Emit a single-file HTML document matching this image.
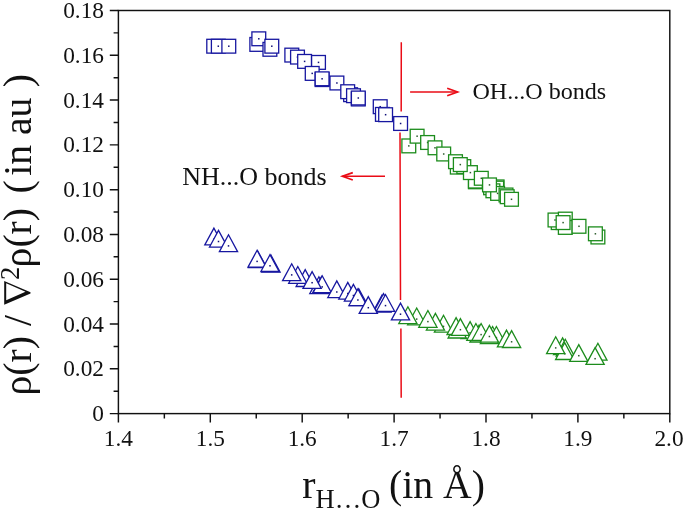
<!DOCTYPE html>
<html><head><meta charset="utf-8"><style>html,body{margin:0;padding:0;background:#fff}svg{display:block;will-change:transform}text{font-family:"Liberation Serif",serif;fill:#111}</style></head><body>
<svg width="685" height="510" viewBox="0 0 685 510">
<rect width="685" height="510" fill="#fff"/>
<rect x="118.4" y="10.5" width="551.4" height="403.1" fill="none" stroke="#111" stroke-width="1.45"/>
<path d="M118.4 413.60h-8.6M118.4 391.21h-4.8M118.4 368.81h-8.6M118.4 346.42h-4.8M118.4 324.02h-8.6M118.4 301.63h-4.8M118.4 279.23h-8.6M118.4 256.84h-4.8M118.4 234.44h-8.6M118.4 212.05h-4.8M118.4 189.66h-8.6M118.4 167.26h-4.8M118.4 144.87h-8.6M118.4 122.47h-4.8M118.4 100.08h-8.6M118.4 77.68h-4.8M118.4 55.29h-8.6M118.4 32.89h-4.8M118.4 10.50h-8.6M118.40 413.6v9.0M164.35 413.6v5.0M210.30 413.6v9.0M256.25 413.6v5.0M302.20 413.6v9.0M348.15 413.6v5.0M394.10 413.6v9.0M440.05 413.6v5.0M486.00 413.6v9.0M531.95 413.6v5.0M577.90 413.6v9.0M623.85 413.6v5.0M669.80 413.6v9.0" stroke="#111" stroke-width="1.45" fill="none"/>
<text x="104.0" y="421.20" font-size="23.3" text-anchor="end">0</text>
<text x="104.0" y="376.41" font-size="23.3" text-anchor="end">0.02</text>
<text x="104.0" y="331.62" font-size="23.3" text-anchor="end">0.04</text>
<text x="104.0" y="286.83" font-size="23.3" text-anchor="end">0.06</text>
<text x="104.0" y="242.04" font-size="23.3" text-anchor="end">0.08</text>
<text x="104.0" y="197.26" font-size="23.3" text-anchor="end">0.10</text>
<text x="104.0" y="152.47" font-size="23.3" text-anchor="end">0.12</text>
<text x="104.0" y="107.68" font-size="23.3" text-anchor="end">0.14</text>
<text x="104.0" y="62.89" font-size="23.3" text-anchor="end">0.16</text>
<text x="104.0" y="18.10" font-size="23.3" text-anchor="end">0.18</text>
<text x="118.40" y="445.8" font-size="23.3" text-anchor="middle">1.4</text>
<text x="210.30" y="445.8" font-size="23.3" text-anchor="middle">1.5</text>
<text x="302.20" y="445.8" font-size="23.3" text-anchor="middle">1.6</text>
<text x="394.10" y="445.8" font-size="23.3" text-anchor="middle">1.7</text>
<text x="486.00" y="445.8" font-size="23.3" text-anchor="middle">1.8</text>
<text x="577.90" y="445.8" font-size="23.3" text-anchor="middle">1.9</text>
<text x="669.00" y="445.8" font-size="23.3" text-anchor="middle">2.0</text>
<g transform="translate(30.5,395.5) rotate(-90)"><text font-size="39.7" xml:space="preserve"><tspan x="0">ρ(r) /</tspan><tspan font-size="26.5" x="115.6" y="-11.8">2</tspan><tspan x="128.1" y="0">ρ(r)</tspan><tspan x="201.9">(</tspan><tspan x="219.7">in au</tspan><tspan x="308.3">)</tspan></text><path transform="translate(90.8,0)" fill-rule="evenodd" fill="#111" d="M0,-26.3H23.7L12.4,0H11.3ZM4.5,-24.3H21.5L13,-5Z"/></g>
<text x="302.3" y="498" font-size="39.7" xml:space="preserve">r<tspan font-size="26.5" dy="10.3">H…O</tspan><tspan dy="-10.3" dx="-1.2"> (in Å)</tspan></text>
<path d="M401.3 42.2L401.2 111.4M400 132.6L400.5 300M400.9 328.4L401.2 397.7" stroke="#ea0c16" stroke-width="1.5" fill="none"/>
<path d="M410.1 92H457.5" stroke="#ea0c16" stroke-width="1.6" fill="none"/><path d="M447.2 88.2L457.6 92L447.2 95.8" stroke="#ea0c16" stroke-width="1.7" fill="none" stroke-linejoin="miter"/>
<path d="M385 176.3H342.5" stroke="#ea0c16" stroke-width="1.6" fill="none"/><path d="M352.8 172.6L342.4 176.3L352.8 180" stroke="#ea0c16" stroke-width="1.7" fill="none" stroke-linejoin="miter"/>
<text x="472.4" y="98.7" font-size="24.1">OH...O bonds</text>
<text x="182.2" y="184.8" font-size="26">NH...O bonds</text>
<rect x="206.8" y="39.3" width="13.8" height="13.8" fill="#fff" stroke="#1717a0" stroke-width="1.3"/><rect x="212.95" y="45.45" width="1.5" height="1.5" fill="#0e0e78"/>
<rect x="211.4" y="39.3" width="13.8" height="13.8" fill="#fff" stroke="#1717a0" stroke-width="1.3"/><rect x="217.55" y="45.45" width="1.5" height="1.5" fill="#0e0e78"/>
<rect x="221.9" y="39.3" width="13.8" height="13.8" fill="#fff" stroke="#1717a0" stroke-width="1.3"/><rect x="228.05" y="45.45" width="1.5" height="1.5" fill="#0e0e78"/>
<rect x="249.9" y="37.5" width="13.8" height="13.8" fill="#fff" stroke="#1717a0" stroke-width="1.3"/><rect x="256.05" y="43.65" width="1.5" height="1.5" fill="#0e0e78"/>
<rect x="251.9" y="31.9" width="13.8" height="13.8" fill="#fff" stroke="#1717a0" stroke-width="1.3"/><rect x="258.05" y="38.05" width="1.5" height="1.5" fill="#0e0e78"/>
<rect x="263.0" y="42.4" width="13.8" height="13.8" fill="#fff" stroke="#1717a0" stroke-width="1.3"/><rect x="269.15" y="48.55" width="1.5" height="1.5" fill="#0e0e78"/>
<rect x="264.9" y="39.3" width="13.8" height="13.8" fill="#fff" stroke="#1717a0" stroke-width="1.3"/><rect x="271.05" y="45.45" width="1.5" height="1.5" fill="#0e0e78"/>
<rect x="284.9" y="48.2" width="13.8" height="13.8" fill="#fff" stroke="#1717a0" stroke-width="1.3"/><rect x="291.05" y="54.35" width="1.5" height="1.5" fill="#0e0e78"/>
<rect x="290.6" y="50.2" width="13.8" height="13.8" fill="#fff" stroke="#1717a0" stroke-width="1.3"/><rect x="296.75" y="56.35" width="1.5" height="1.5" fill="#0e0e78"/>
<rect x="297.7" y="54.5" width="13.8" height="13.8" fill="#fff" stroke="#1717a0" stroke-width="1.3"/><rect x="303.85" y="60.65" width="1.5" height="1.5" fill="#0e0e78"/>
<rect x="311.6" y="55.5" width="13.8" height="13.8" fill="#fff" stroke="#1717a0" stroke-width="1.3"/><rect x="317.75" y="61.65" width="1.5" height="1.5" fill="#0e0e78"/>
<rect x="305.3" y="66.5" width="13.8" height="13.8" fill="#fff" stroke="#1717a0" stroke-width="1.3"/><rect x="311.45" y="72.65" width="1.5" height="1.5" fill="#0e0e78"/>
<rect x="315.2" y="72.7" width="13.8" height="13.8" fill="#fff" stroke="#1717a0" stroke-width="1.3"/><rect x="321.35" y="78.85" width="1.5" height="1.5" fill="#0e0e78"/>
<rect x="315.2" y="71.9" width="13.8" height="13.8" fill="#fff" stroke="#1717a0" stroke-width="1.3"/><rect x="321.35" y="78.05" width="1.5" height="1.5" fill="#0e0e78"/>
<rect x="330.0" y="76.1" width="13.8" height="13.8" fill="#fff" stroke="#1717a0" stroke-width="1.3"/><rect x="336.15" y="82.25" width="1.5" height="1.5" fill="#0e0e78"/>
<rect x="343.7" y="87.8" width="13.8" height="13.8" fill="#fff" stroke="#1717a0" stroke-width="1.3"/><rect x="349.85" y="93.95" width="1.5" height="1.5" fill="#0e0e78"/>
<rect x="340.8" y="84.8" width="13.8" height="13.8" fill="#fff" stroke="#1717a0" stroke-width="1.3"/><rect x="346.95" y="90.95" width="1.5" height="1.5" fill="#0e0e78"/>
<rect x="346.6" y="88.8" width="13.8" height="13.8" fill="#fff" stroke="#1717a0" stroke-width="1.3"/><rect x="352.75" y="94.95" width="1.5" height="1.5" fill="#0e0e78"/>
<rect x="351.4" y="92.1" width="13.8" height="13.8" fill="#fff" stroke="#1717a0" stroke-width="1.3"/><rect x="357.55" y="98.25" width="1.5" height="1.5" fill="#0e0e78"/>
<rect x="351.4" y="91.1" width="13.8" height="13.8" fill="#fff" stroke="#1717a0" stroke-width="1.3"/><rect x="357.55" y="97.25" width="1.5" height="1.5" fill="#0e0e78"/>
<rect x="373.3" y="99.8" width="13.8" height="13.8" fill="#fff" stroke="#1717a0" stroke-width="1.3"/><rect x="379.45" y="105.95" width="1.5" height="1.5" fill="#0e0e78"/>
<rect x="375.5" y="107.5" width="13.8" height="13.8" fill="#fff" stroke="#1717a0" stroke-width="1.3"/><rect x="381.65" y="113.65" width="1.5" height="1.5" fill="#0e0e78"/>
<rect x="378.7" y="107.8" width="13.8" height="13.8" fill="#fff" stroke="#1717a0" stroke-width="1.3"/><rect x="384.85" y="113.95" width="1.5" height="1.5" fill="#0e0e78"/>
<rect x="393.7" y="116.6" width="13.8" height="13.8" fill="#fff" stroke="#1717a0" stroke-width="1.3"/><rect x="399.85" y="122.75" width="1.5" height="1.5" fill="#0e0e78"/>
<rect x="401.9" y="139.0" width="13.8" height="13.8" fill="#fff" stroke="#1c8c1c" stroke-width="1.3"/><rect x="408.05" y="145.15" width="1.5" height="1.5" fill="#2c5c2c"/>
<rect x="410.2" y="129.3" width="13.8" height="13.8" fill="#fff" stroke="#1c8c1c" stroke-width="1.3"/><rect x="416.35" y="135.45" width="1.5" height="1.5" fill="#2c5c2c"/>
<rect x="420.7" y="135.6" width="13.8" height="13.8" fill="#fff" stroke="#1c8c1c" stroke-width="1.3"/><rect x="426.85" y="141.75" width="1.5" height="1.5" fill="#2c5c2c"/>
<rect x="428.1" y="140.9" width="13.8" height="13.8" fill="#fff" stroke="#1c8c1c" stroke-width="1.3"/><rect x="434.25" y="147.05" width="1.5" height="1.5" fill="#2c5c2c"/>
<rect x="436.8" y="147.1" width="13.8" height="13.8" fill="#fff" stroke="#1c8c1c" stroke-width="1.3"/><rect x="442.95" y="153.25" width="1.5" height="1.5" fill="#2c5c2c"/>
<rect x="450.4" y="160.2" width="13.8" height="13.8" fill="#fff" stroke="#1c8c1c" stroke-width="1.3"/><rect x="456.55" y="166.35" width="1.5" height="1.5" fill="#2c5c2c"/>
<rect x="448.6" y="154.8" width="13.8" height="13.8" fill="#fff" stroke="#1c8c1c" stroke-width="1.3"/><rect x="454.75" y="160.95" width="1.5" height="1.5" fill="#2c5c2c"/>
<rect x="456.9" y="159.7" width="13.8" height="13.8" fill="#fff" stroke="#1c8c1c" stroke-width="1.3"/><rect x="463.05" y="165.85" width="1.5" height="1.5" fill="#2c5c2c"/>
<rect x="468.5" y="174.9" width="13.8" height="13.8" fill="#fff" stroke="#1c8c1c" stroke-width="1.3"/><rect x="474.65" y="181.05" width="1.5" height="1.5" fill="#2c5c2c"/>
<rect x="468.5" y="174.2" width="13.8" height="13.8" fill="#fff" stroke="#1c8c1c" stroke-width="1.3"/><rect x="474.65" y="180.35" width="1.5" height="1.5" fill="#2c5c2c"/>
<rect x="463.5" y="165.7" width="13.8" height="13.8" fill="#fff" stroke="#1c8c1c" stroke-width="1.3"/><rect x="469.65" y="171.85" width="1.5" height="1.5" fill="#2c5c2c"/>
<rect x="453.4" y="157.7" width="13.8" height="13.8" fill="#fff" stroke="#1c8c1c" stroke-width="1.3"/><rect x="459.55" y="163.85" width="1.5" height="1.5" fill="#2c5c2c"/>
<rect x="474.4" y="171.4" width="13.8" height="13.8" fill="#fff" stroke="#1c8c1c" stroke-width="1.3"/><rect x="480.55" y="177.55" width="1.5" height="1.5" fill="#2c5c2c"/>
<rect x="483.7" y="180.9" width="13.8" height="13.8" fill="#fff" stroke="#1c8c1c" stroke-width="1.3"/><rect x="489.85" y="187.05" width="1.5" height="1.5" fill="#2c5c2c"/>
<rect x="490.2" y="180.0" width="13.8" height="13.8" fill="#fff" stroke="#1c8c1c" stroke-width="1.3"/><rect x="496.35" y="186.15" width="1.5" height="1.5" fill="#2c5c2c"/>
<rect x="489.8" y="181.2" width="13.8" height="13.8" fill="#fff" stroke="#1c8c1c" stroke-width="1.3"/><rect x="495.95" y="187.35" width="1.5" height="1.5" fill="#2c5c2c"/>
<rect x="486.0" y="183.9" width="13.8" height="13.8" fill="#fff" stroke="#1c8c1c" stroke-width="1.3"/><rect x="492.15" y="190.05" width="1.5" height="1.5" fill="#2c5c2c"/>
<rect x="490.7" y="186.5" width="13.8" height="13.8" fill="#fff" stroke="#1c8c1c" stroke-width="1.3"/><rect x="496.85" y="192.65" width="1.5" height="1.5" fill="#2c5c2c"/>
<rect x="482.6" y="178.0" width="13.8" height="13.8" fill="#fff" stroke="#1c8c1c" stroke-width="1.3"/><rect x="488.75" y="184.15" width="1.5" height="1.5" fill="#2c5c2c"/>
<rect x="499.1" y="188.1" width="13.8" height="13.8" fill="#fff" stroke="#1c8c1c" stroke-width="1.3"/><rect x="505.25" y="194.25" width="1.5" height="1.5" fill="#2c5c2c"/>
<rect x="500.3" y="189.8" width="13.8" height="13.8" fill="#fff" stroke="#1c8c1c" stroke-width="1.3"/><rect x="506.45" y="195.95" width="1.5" height="1.5" fill="#2c5c2c"/>
<rect x="504.6" y="192.4" width="13.8" height="13.8" fill="#fff" stroke="#1c8c1c" stroke-width="1.3"/><rect x="510.75" y="198.55" width="1.5" height="1.5" fill="#2c5c2c"/>
<rect x="551.3" y="215.7" width="13.8" height="13.8" fill="#fff" stroke="#1c8c1c" stroke-width="1.3"/><rect x="557.45" y="221.85" width="1.5" height="1.5" fill="#2c5c2c"/>
<rect x="548.1" y="213.1" width="13.8" height="13.8" fill="#fff" stroke="#1c8c1c" stroke-width="1.3"/><rect x="554.25" y="219.25" width="1.5" height="1.5" fill="#2c5c2c"/>
<rect x="558.4" y="212.2" width="13.8" height="13.8" fill="#fff" stroke="#1c8c1c" stroke-width="1.3"/><rect x="564.55" y="218.35" width="1.5" height="1.5" fill="#2c5c2c"/>
<rect x="558.4" y="220.5" width="13.8" height="13.8" fill="#fff" stroke="#1c8c1c" stroke-width="1.3"/><rect x="564.55" y="226.65" width="1.5" height="1.5" fill="#2c5c2c"/>
<rect x="556.2" y="215.7" width="13.8" height="13.8" fill="#fff" stroke="#1c8c1c" stroke-width="1.3"/><rect x="562.35" y="221.85" width="1.5" height="1.5" fill="#2c5c2c"/>
<rect x="572.1" y="219.4" width="13.8" height="13.8" fill="#fff" stroke="#1c8c1c" stroke-width="1.3"/><rect x="578.25" y="225.55" width="1.5" height="1.5" fill="#2c5c2c"/>
<rect x="591.0" y="230.1" width="13.8" height="13.8" fill="#fff" stroke="#1c8c1c" stroke-width="1.3"/><rect x="597.15" y="236.25" width="1.5" height="1.5" fill="#2c5c2c"/>
<rect x="588.5" y="226.9" width="13.8" height="13.8" fill="#fff" stroke="#1c8c1c" stroke-width="1.3"/><rect x="594.65" y="233.05" width="1.5" height="1.5" fill="#2c5c2c"/>
<path d="M407.6 324.8L416.7 308.0L425.8 324.8Z" fill="#fff" stroke="#1c8c1c" stroke-width="1.3" stroke-linejoin="miter"/><rect x="415.95" y="318.35" width="1.5" height="1.5" fill="#2c5c2c"/>
<path d="M398.8 323.6L407.9 306.8L417.0 323.6Z" fill="#fff" stroke="#1c8c1c" stroke-width="1.3" stroke-linejoin="miter"/><rect x="407.15" y="317.15" width="1.5" height="1.5" fill="#2c5c2c"/>
<path d="M434.4 332.1L443.5 315.3L452.6 332.1Z" fill="#fff" stroke="#1c8c1c" stroke-width="1.3" stroke-linejoin="miter"/><rect x="442.75" y="325.65" width="1.5" height="1.5" fill="#2c5c2c"/>
<path d="M426.3 330.2L435.4 313.4L444.5 330.2Z" fill="#fff" stroke="#1c8c1c" stroke-width="1.3" stroke-linejoin="miter"/><rect x="434.65" y="323.75" width="1.5" height="1.5" fill="#2c5c2c"/>
<path d="M418.8 327.3L427.9 310.5L437.0 327.3Z" fill="#fff" stroke="#1c8c1c" stroke-width="1.3" stroke-linejoin="miter"/><rect x="427.15" y="320.85" width="1.5" height="1.5" fill="#2c5c2c"/>
<path d="M461.0 338.5L470.1 321.7L479.2 338.5Z" fill="#fff" stroke="#1c8c1c" stroke-width="1.3" stroke-linejoin="miter"/><rect x="469.35" y="332.05" width="1.5" height="1.5" fill="#2c5c2c"/>
<path d="M448.1 338.0L457.2 321.2L466.3 338.0Z" fill="#fff" stroke="#1c8c1c" stroke-width="1.3" stroke-linejoin="miter"/><rect x="456.45" y="331.55" width="1.5" height="1.5" fill="#2c5c2c"/>
<path d="M447.0 334.5L456.1 317.7L465.2 334.5Z" fill="#fff" stroke="#1c8c1c" stroke-width="1.3" stroke-linejoin="miter"/><rect x="455.35" y="328.05" width="1.5" height="1.5" fill="#2c5c2c"/>
<path d="M451.3 335.4L460.4 318.6L469.5 335.4Z" fill="#fff" stroke="#1c8c1c" stroke-width="1.3" stroke-linejoin="miter"/><rect x="459.65" y="328.95" width="1.5" height="1.5" fill="#2c5c2c"/>
<path d="M470.0 342.0L479.1 325.2L488.2 342.0Z" fill="#fff" stroke="#1c8c1c" stroke-width="1.3" stroke-linejoin="miter"/><rect x="478.35" y="335.55" width="1.5" height="1.5" fill="#2c5c2c"/>
<path d="M466.8 340.3L475.9 323.5L485.0 340.3Z" fill="#fff" stroke="#1c8c1c" stroke-width="1.3" stroke-linejoin="miter"/><rect x="475.15" y="333.85" width="1.5" height="1.5" fill="#2c5c2c"/>
<path d="M472.0 340.3L481.1 323.5L490.2 340.3Z" fill="#fff" stroke="#1c8c1c" stroke-width="1.3" stroke-linejoin="miter"/><rect x="480.35" y="333.85" width="1.5" height="1.5" fill="#2c5c2c"/>
<path d="M483.5 343.3L492.6 326.5L501.7 343.3Z" fill="#fff" stroke="#1c8c1c" stroke-width="1.3" stroke-linejoin="miter"/><rect x="491.85" y="336.85" width="1.5" height="1.5" fill="#2c5c2c"/>
<path d="M487.3 343.3L496.4 326.5L505.5 343.3Z" fill="#fff" stroke="#1c8c1c" stroke-width="1.3" stroke-linejoin="miter"/><rect x="495.65" y="336.85" width="1.5" height="1.5" fill="#2c5c2c"/>
<path d="M480.3 343.7L489.4 326.9L498.5 343.7Z" fill="#fff" stroke="#1c8c1c" stroke-width="1.3" stroke-linejoin="miter"/><rect x="488.65" y="337.25" width="1.5" height="1.5" fill="#2c5c2c"/>
<path d="M480.3 342.2L489.4 325.4L498.5 342.2Z" fill="#fff" stroke="#1c8c1c" stroke-width="1.3" stroke-linejoin="miter"/><rect x="488.65" y="335.75" width="1.5" height="1.5" fill="#2c5c2c"/>
<path d="M497.4 346.9L506.5 330.1L515.6 346.9Z" fill="#fff" stroke="#1c8c1c" stroke-width="1.3" stroke-linejoin="miter"/><rect x="505.75" y="340.45" width="1.5" height="1.5" fill="#2c5c2c"/>
<path d="M502.5 347.5L511.6 330.7L520.7 347.5Z" fill="#fff" stroke="#1c8c1c" stroke-width="1.3" stroke-linejoin="miter"/><rect x="510.85" y="341.05" width="1.5" height="1.5" fill="#2c5c2c"/>
<path d="M553.5 354.7L562.6 337.9L571.7 354.7Z" fill="#fff" stroke="#1c8c1c" stroke-width="1.3" stroke-linejoin="miter"/><rect x="561.85" y="348.25" width="1.5" height="1.5" fill="#2c5c2c"/>
<path d="M556.2 356.1L565.3 339.3L574.4 356.1Z" fill="#fff" stroke="#1c8c1c" stroke-width="1.3" stroke-linejoin="miter"/><rect x="564.55" y="349.65" width="1.5" height="1.5" fill="#2c5c2c"/>
<path d="M555.6 359.5L564.7 342.7L573.8 359.5Z" fill="#fff" stroke="#1c8c1c" stroke-width="1.3" stroke-linejoin="miter"/><rect x="563.95" y="353.05" width="1.5" height="1.5" fill="#2c5c2c"/>
<path d="M546.6 353.6L555.7 336.8L564.8 353.6Z" fill="#fff" stroke="#1c8c1c" stroke-width="1.3" stroke-linejoin="miter"/><rect x="554.95" y="347.15" width="1.5" height="1.5" fill="#2c5c2c"/>
<path d="M569.7 361.4L578.8 344.6L587.9 361.4Z" fill="#fff" stroke="#1c8c1c" stroke-width="1.3" stroke-linejoin="miter"/><rect x="578.05" y="354.95" width="1.5" height="1.5" fill="#2c5c2c"/>
<path d="M588.8 360.1L597.9 343.3L607.0 360.1Z" fill="#fff" stroke="#1c8c1c" stroke-width="1.3" stroke-linejoin="miter"/><rect x="597.15" y="353.65" width="1.5" height="1.5" fill="#2c5c2c"/>
<path d="M586.0 364.4L595.1 347.6L604.2 364.4Z" fill="#fff" stroke="#1c8c1c" stroke-width="1.3" stroke-linejoin="miter"/><rect x="594.35" y="357.95" width="1.5" height="1.5" fill="#2c5c2c"/>
<path d="M204.8 244.9L213.9 228.1L223.0 244.9Z" fill="#fff" stroke="#1717a0" stroke-width="1.3" stroke-linejoin="miter"/><rect x="213.15" y="238.45" width="1.5" height="1.5" fill="#0e0e78"/>
<path d="M209.4 247.2L218.5 230.4L227.6 247.2Z" fill="#fff" stroke="#1717a0" stroke-width="1.3" stroke-linejoin="miter"/><rect x="217.75" y="240.75" width="1.5" height="1.5" fill="#0e0e78"/>
<path d="M219.4 251.6L228.5 234.8L237.6 251.6Z" fill="#fff" stroke="#1717a0" stroke-width="1.3" stroke-linejoin="miter"/><rect x="227.75" y="245.15" width="1.5" height="1.5" fill="#0e0e78"/>
<path d="M248.5 267.6L257.6 250.8L266.7 267.6Z" fill="#fff" stroke="#1717a0" stroke-width="1.3" stroke-linejoin="miter"/><rect x="256.85" y="261.15" width="1.5" height="1.5" fill="#0e0e78"/>
<path d="M248.0 267.1L257.1 250.3L266.2 267.1Z" fill="#fff" stroke="#1717a0" stroke-width="1.3" stroke-linejoin="miter"/><rect x="256.35" y="260.65" width="1.5" height="1.5" fill="#0e0e78"/>
<path d="M261.9 272.0L271.0 255.2L280.1 272.0Z" fill="#fff" stroke="#1717a0" stroke-width="1.3" stroke-linejoin="miter"/><rect x="270.25" y="265.55" width="1.5" height="1.5" fill="#0e0e78"/>
<path d="M260.9 271.5L270.0 254.7L279.1 271.5Z" fill="#fff" stroke="#1717a0" stroke-width="1.3" stroke-linejoin="miter"/><rect x="269.25" y="265.05" width="1.5" height="1.5" fill="#0e0e78"/>
<path d="M296.1 286.5L305.2 269.7L314.3 286.5Z" fill="#fff" stroke="#1717a0" stroke-width="1.3" stroke-linejoin="miter"/><rect x="304.45" y="280.05" width="1.5" height="1.5" fill="#0e0e78"/>
<path d="M288.7 283.3L297.8 266.5L306.9 283.3Z" fill="#fff" stroke="#1717a0" stroke-width="1.3" stroke-linejoin="miter"/><rect x="297.05" y="276.85" width="1.5" height="1.5" fill="#0e0e78"/>
<path d="M282.6 280.6L291.7 263.8L300.8 280.6Z" fill="#fff" stroke="#1717a0" stroke-width="1.3" stroke-linejoin="miter"/><rect x="290.95" y="274.15" width="1.5" height="1.5" fill="#0e0e78"/>
<path d="M309.8 293.6L318.9 276.8L328.0 293.6Z" fill="#fff" stroke="#1717a0" stroke-width="1.3" stroke-linejoin="miter"/><rect x="318.15" y="287.15" width="1.5" height="1.5" fill="#0e0e78"/>
<path d="M312.4 293.3L321.5 276.5L330.6 293.3Z" fill="#fff" stroke="#1717a0" stroke-width="1.3" stroke-linejoin="miter"/><rect x="320.75" y="286.85" width="1.5" height="1.5" fill="#0e0e78"/>
<path d="M313.1 292.6L322.2 275.8L331.3 292.6Z" fill="#fff" stroke="#1717a0" stroke-width="1.3" stroke-linejoin="miter"/><rect x="321.45" y="286.15" width="1.5" height="1.5" fill="#0e0e78"/>
<path d="M303.0 288.4L312.1 271.6L321.2 288.4Z" fill="#fff" stroke="#1717a0" stroke-width="1.3" stroke-linejoin="miter"/><rect x="311.35" y="281.95" width="1.5" height="1.5" fill="#0e0e78"/>
<path d="M327.7 297.7L336.8 280.9L345.9 297.7Z" fill="#fff" stroke="#1717a0" stroke-width="1.3" stroke-linejoin="miter"/><rect x="336.05" y="291.25" width="1.5" height="1.5" fill="#0e0e78"/>
<path d="M338.7 299.2L347.8 282.4L356.9 299.2Z" fill="#fff" stroke="#1717a0" stroke-width="1.3" stroke-linejoin="miter"/><rect x="347.05" y="292.75" width="1.5" height="1.5" fill="#0e0e78"/>
<path d="M344.3 301.2L353.4 284.4L362.5 301.2Z" fill="#fff" stroke="#1717a0" stroke-width="1.3" stroke-linejoin="miter"/><rect x="352.65" y="294.75" width="1.5" height="1.5" fill="#0e0e78"/>
<path d="M349.7 305.7L358.8 288.9L367.9 305.7Z" fill="#fff" stroke="#1717a0" stroke-width="1.3" stroke-linejoin="miter"/><rect x="358.05" y="299.25" width="1.5" height="1.5" fill="#0e0e78"/>
<path d="M348.8 305.7L357.9 288.9L367.0 305.7Z" fill="#fff" stroke="#1717a0" stroke-width="1.3" stroke-linejoin="miter"/><rect x="357.15" y="299.25" width="1.5" height="1.5" fill="#0e0e78"/>
<path d="M372.9 312.0L382.0 295.2L391.1 312.0Z" fill="#fff" stroke="#1717a0" stroke-width="1.3" stroke-linejoin="miter"/><rect x="381.25" y="305.55" width="1.5" height="1.5" fill="#0e0e78"/>
<path d="M374.4 310.5L383.5 293.7L392.6 310.5Z" fill="#fff" stroke="#1717a0" stroke-width="1.3" stroke-linejoin="miter"/><rect x="382.75" y="304.05" width="1.5" height="1.5" fill="#0e0e78"/>
<path d="M376.4 311.3L385.5 294.5L394.6 311.3Z" fill="#fff" stroke="#1717a0" stroke-width="1.3" stroke-linejoin="miter"/><rect x="384.75" y="304.85" width="1.5" height="1.5" fill="#0e0e78"/>
<path d="M359.2 313.4L368.3 296.6L377.4 313.4Z" fill="#fff" stroke="#1717a0" stroke-width="1.3" stroke-linejoin="miter"/><rect x="367.55" y="306.95" width="1.5" height="1.5" fill="#0e0e78"/>
<path d="M391.4 319.9L400.5 303.1L409.6 319.9Z" fill="#fff" stroke="#1717a0" stroke-width="1.3" stroke-linejoin="miter"/><rect x="399.75" y="313.45" width="1.5" height="1.5" fill="#0e0e78"/>
</svg></body></html>
